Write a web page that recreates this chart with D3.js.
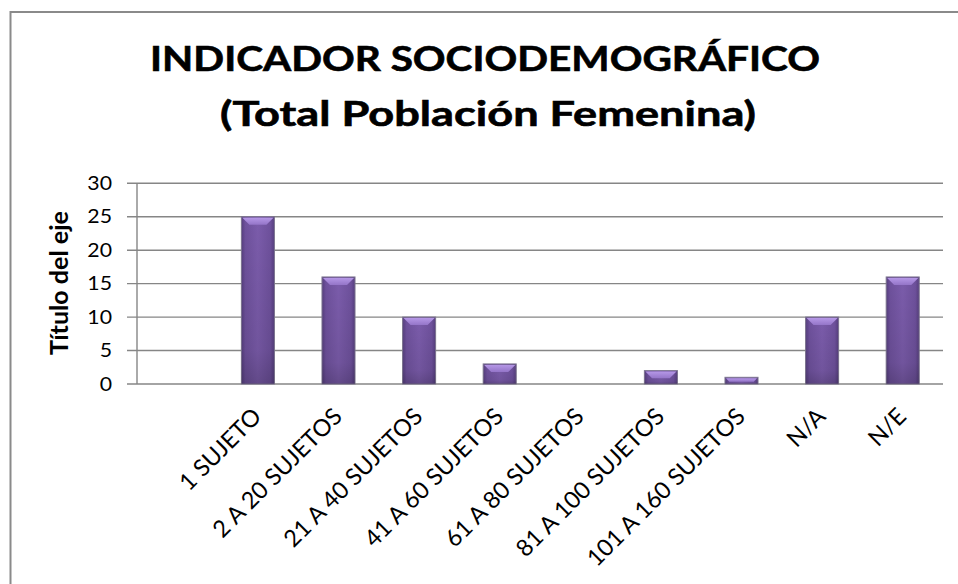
<!DOCTYPE html>
<html>
<head>
<meta charset="utf-8">
<script src="https://cdn.jsdelivr.net/npm/d3@7/dist/d3.min.js"></script>
<style>
  body { margin: 0; background: #fff; }
  text { font-family: Lato, "Open Sans", sans-serif; fill: #000; }
</style>
</head>
<body>
<div id="chart"></div>
<script>
// chart data
var categories = ["", "1 SUJETO", "2 A 20 SUJETOS", "21 A 40 SUJETOS", "41 A 60 SUJETOS",
                  "61 A 80 SUJETOS", "81 A 100 SUJETOS", "101 A 160 SUJETOS", "N/A", "N/E"];
var values = [null, 25, 16, 10, 3, 0, 2, 1, 10, 16];
var yTicks = [0, 5, 10, 15, 20, 25, 30];
var titleLines = ["INDICADOR SOCIODEMOGRÁFICO", "(Total Población Femenina)"];
var yTitle = "Título del eje";

var W = 958, H = 584;
var plot = {left: 137, right: 943, top: 183.3, bottom: 384};

var svg = d3.select("#chart").append("svg")
    .attr("width", W)
    .attr("height", H);

// gradients for the bevelled bars
var defs = svg.append("defs");
var body = defs.append("linearGradient").attr("id", "barBody")
    .attr("x1", "0").attr("x2", "1").attr("y1", "0").attr("y2", "0");
[[0, "#563e7e"], [0.12, "#6e519c"], [0.5, "#7b5cab"], [0.88, "#6e519c"], [1, "#563e7e"]]
  .forEach(function(s) { body.append("stop").attr("offset", s[0]).attr("stop-color", s[1]); });
var shade = defs.append("linearGradient").attr("id", "barShade")
    .attr("x1", "0").attr("x2", "0").attr("y1", "0").attr("y2", "1");
shade.append("stop").attr("offset", 0).attr("stop-color", "#000").attr("stop-opacity", 0);
shade.append("stop").attr("offset", 0.8).attr("stop-color", "#000").attr("stop-opacity", 0.08);
shade.append("stop").attr("offset", 1).attr("stop-color", "#000").attr("stop-opacity", 0.2);
var bevel = defs.append("linearGradient").attr("id", "barBevel")
    .attr("x1", "0").attr("x2", "0").attr("y1", "0").attr("y2", "1");
bevel.append("stop").attr("offset", 0).attr("stop-color", "#b597e6");
bevel.append("stop").attr("offset", 1).attr("stop-color", "#9475c8");

// chart border
svg.append("rect")
    .attr("x", 10.5).attr("y", 12)
    .attr("width", W + 20).attr("height", H + 20)
    .attr("fill", "none")
    .attr("stroke", "#8a8a8a")
    .attr("stroke-width", 2);

// title, stretched to the reference width
var titleSpec = [{y: 70.5, size: 34, width: 670, cx: 485}, {y: 126, size: 34, width: 536, cx: 488}];
titleLines.forEach(function(t, i) {
  var s = titleSpec[i];
  var g = svg.append("g").attr("transform", "translate(" + s.cx + "," + s.y + ")");
  var txt = g.append("text")
      .attr("text-anchor", "middle")
      .style("font-size", s.size + "px")
      .style("font-weight", "bold")
      .style("stroke", "#000")
      .style("stroke-width", 0.6)
      .text(t);
  var len = txt.node().getComputedTextLength();
  txt.attr("transform", "scale(" + (s.width / len) + ",1)");
});

// scales
var x = d3.scaleBand()
    .domain(categories)
    .range([plot.left, plot.right])
    .paddingInner(0.59)
    .paddingOuter(0.295);

var y = d3.scaleLinear()
    .domain([0, 30])
    .range([plot.bottom, plot.top]);

// gridlines (extend left as tick marks)
svg.append("g").selectAll("line")
    .data(yTicks)
  .enter().append("line")
    .attr("x1", plot.left - 10)
    .attr("x2", plot.right)
    .attr("y1", function(d) { return y(d); })
    .attr("y2", function(d) { return y(d); })
    .attr("stroke", "#868686")
    .attr("stroke-width", 1.4);

// y axis line
svg.append("line")
    .attr("x1", plot.left).attr("x2", plot.left)
    .attr("y1", y(30)).attr("y2", y(0))
    .attr("stroke", "#868686")
    .attr("stroke-width", 1.4);

// y tick labels
var yAxis = d3.axisLeft(y).tickValues(yTicks).tickSize(0).tickPadding(25);
var yg = svg.append("g")
    .attr("transform", "translate(" + plot.left + ",0)")
    .call(yAxis);
yg.select(".domain").remove();
yg.selectAll("text")
    .style("font-family", "Lato, sans-serif")
    .style("font-size", "19px")
    .attr("fill", "#000")
    .attr("transform", "scale(1.12,1)")
    .attr("x", -25 / 1.12);

// y axis title, fitted to the reference length
var yt = svg.append("text")
    .attr("transform", "translate(68,283) rotate(-90)")
    .attr("text-anchor", "middle")
    .style("font-size", "17px")
    .style("font-weight", "bold")
    .text(yTitle);
yt.style("font-size", (17 * 144 / yt.node().getComputedTextLength()) + "px");

// bars
var bw = x.bandwidth();
var bars = svg.append("g").selectAll("g.bar")
    .data(categories.map(function(c, i) { return {cat: c, v: values[i]}; })
      .filter(function(d) { return d.v > 0; }))
  .enter().append("g")
    .attr("class", "bar");

bars.append("rect")
    .attr("x", function(d) { return x(d.cat); })
    .attr("y", function(d) { return y(d.v); })
    .attr("width", bw)
    .attr("height", function(d) { return y(0) - y(d.v); })
    .attr("fill", "url(#barBody)")
    .attr("stroke", "#7d7590")
    .attr("stroke-width", 1);

bars.append("rect")
    .attr("x", function(d) { return x(d.cat); })
    .attr("y", function(d) { return y(d.v); })
    .attr("width", bw)
    .attr("height", function(d) { return y(0) - y(d.v); })
    .attr("fill", "url(#barShade)");

bars.append("path")
    .attr("fill", "url(#barBevel)")
    .attr("d", function(d) {
      var x0 = x(d.cat) + 1, x1 = x(d.cat) + bw - 1, y0 = y(d.v) + 1;
      var b = Math.min(7, (y(0) - y(d.v)) / 2);
      return "M" + x0 + "," + y0 + "L" + x1 + "," + y0 +
             "L" + (x1 - b) + "," + (y0 + b) + "L" + (x0 + b) + "," + (y0 + b) + "Z";
    });

// category labels, rotated
var labels = svg.append("g").selectAll("text")
    .data(categories)
  .enter().append("text")
    .attr("text-anchor", "end")
    .attr("transform", function(d) {
      return "translate(" + (x(d) + bw / 2 + 5) + ",418) rotate(-45)";
    })
    .style("font-size", "20px")
    .text(function(d) { return d; });

// fit label size so the longest label matches the reference length
var ref = labels.filter(function(d) { return d === "101 A 160 SUJETOS"; }).node();
var k = 212 / ref.getComputedTextLength();
labels.style("font-size", (20 * k) + "px");
</script>
</body>
</html>
